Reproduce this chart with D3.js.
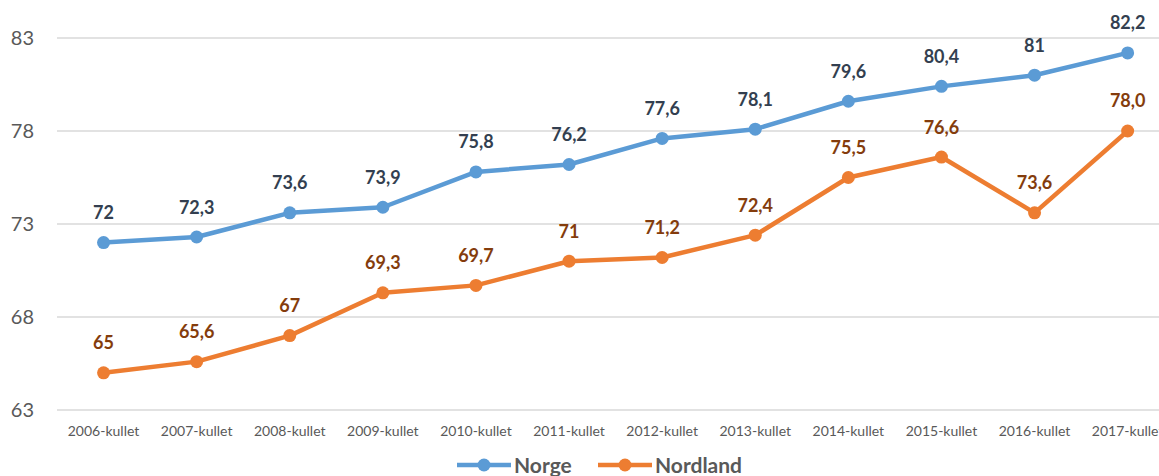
<!DOCTYPE html>
<html lang="no">
  <head>
    <meta charset="UTF-8" />
    <title>Norge og Nordland</title>
    <script src="https://d3js.org/d3.v7.min.js"></script>
    <style>
      html,
      body {
        margin: 0;
        padding: 0;
        background: #ffffff;
      }
      text {
        font-family: Lato, "Open Sans", sans-serif;
      }
    </style>
  </head>
  <body>
    <div id="viz"></div>
    <script>
      // data
      const categories = [
        "2006-kullet", "2007-kullet", "2008-kullet", "2009-kullet",
        "2010-kullet", "2011-kullet", "2012-kullet", "2013-kullet",
        "2014-kullet", "2015-kullet", "2016-kullet", "2017-kullet",
      ];
      const norge = [72, 72.3, 73.6, 73.9, 75.8, 76.2, 77.6, 78.1, 79.6, 80.4, 81, 82.2];
      const nordland = [65, 65.6, 67, 69.3, 69.7, 71, 71.2, 72.4, 75.5, 76.6, 73.6, 78.0];
      const norgeLabels = ["72", "72,3", "73,6", "73,9", "75,8", "76,2", "77,6", "78,1", "79,6", "80,4", "81", "82,2"];
      const nordlandLabels = ["65", "65,6", "67", "69,3", "69,7", "71", "71,2", "72,4", "75,5", "76,6", "73,6", "78,0"];
      const yTicks = [63, 68, 73, 78, 83];

      const width = 1159;
      const height = 476;

      const svg = d3
        .select("#viz")
        .append("svg")
        .attr("width", width)
        .attr("height", height);

      // band step ~93px, plot runs past the right edge as in the original
      const x = d3
        .scaleBand()
        .domain(categories)
        .range([57, 57 + 93.1 * 12]);

      const y = d3.scaleLinear().domain([63, 83]).range([410, 38]);

      const cx = (i) => x(categories[i]) + x.bandwidth() / 2;

      // gridlines
      svg
        .append("g")
        .selectAll("line")
        .data(yTicks)
        .join("line")
        .attr("x1", 57)
        .attr("x2", width)
        .attr("y1", (d) => y(d))
        .attr("y2", (d) => y(d))
        .attr("stroke", "#d9d9d9")
        .attr("stroke-width", 1.5);

      // y axis labels
      svg
        .append("g")
        .selectAll("text")
        .data(yTicks)
        .join("text")
        .attr("x", 34)
        .attr("y", (d) => y(d))
        .attr("dy", "0.36em")
        .attr("text-anchor", "end")
        .attr("fill", "#595959")
        .style("font-size", "20px")
        .text((d) => d);

      // x axis labels
      svg
        .append("g")
        .selectAll("text")
        .data(categories)
        .join("text")
        .attr("x", (d, i) => cx(i))
        .attr("y", 431)
        .attr("dy", "0.36em")
        .attr("text-anchor", "middle")
        .attr("fill", "#595959")
        .style("font-size", "14px")
        .text((d) => d);

      const series = [
        { name: "Norge", values: norge, labels: norgeLabels, color: "#5b9bd5", labelColor: "#333f50" },
        { name: "Nordland", values: nordland, labels: nordlandLabels, color: "#ed7d31", labelColor: "#843c0c" },
      ];

      const line = d3
        .line()
        .x((d, i) => cx(i))
        .y((d) => y(d));

      series.forEach((s) => {
        svg
          .append("path")
          .datum(s.values)
          .attr("d", line)
          .attr("fill", "none")
          .attr("stroke", s.color)
          .attr("stroke-width", 4.5)
          .attr("stroke-linejoin", "round");

        svg
          .append("g")
          .selectAll("circle")
          .data(s.values)
          .join("circle")
          .attr("cx", (d, i) => cx(i))
          .attr("cy", (d) => y(d))
          .attr("r", 6.5)
          .attr("fill", s.color);

        svg
          .append("g")
          .selectAll("text")
          .data(s.values)
          .join("text")
          .attr("x", (d, i) => cx(i))
          .attr("y", (d) => y(d) - 30)
          .attr("dy", "0.36em")
          .attr("text-anchor", "middle")
          .attr("fill", s.labelColor)
          .style("font-size", "18px")
          .style("font-weight", "bold")
          .text((d, i) => s.labels[i]);
      });

      // legend
      const legend = svg
        .append("g")
        .selectAll("g")
        .data(series)
        .join("g")
        .attr("transform", (d, i) => `translate(${457 + i * 141},465)`);

      legend
        .append("line")
        .attr("x1", 0)
        .attr("x2", 54)
        .attr("stroke", (d) => d.color)
        .attr("stroke-width", 4.5);

      legend
        .append("circle")
        .attr("cx", 27)
        .attr("r", 6.5)
        .attr("fill", (d) => d.color);

      legend
        .append("text")
        .attr("x", 57)
        .attr("dy", "0.36em")
        .attr("fill", "#595959")
        .style("font-size", "21px")
        .style("font-weight", "bold")
        .text((d) => d.name);
    </script>
  </body>
</html>
